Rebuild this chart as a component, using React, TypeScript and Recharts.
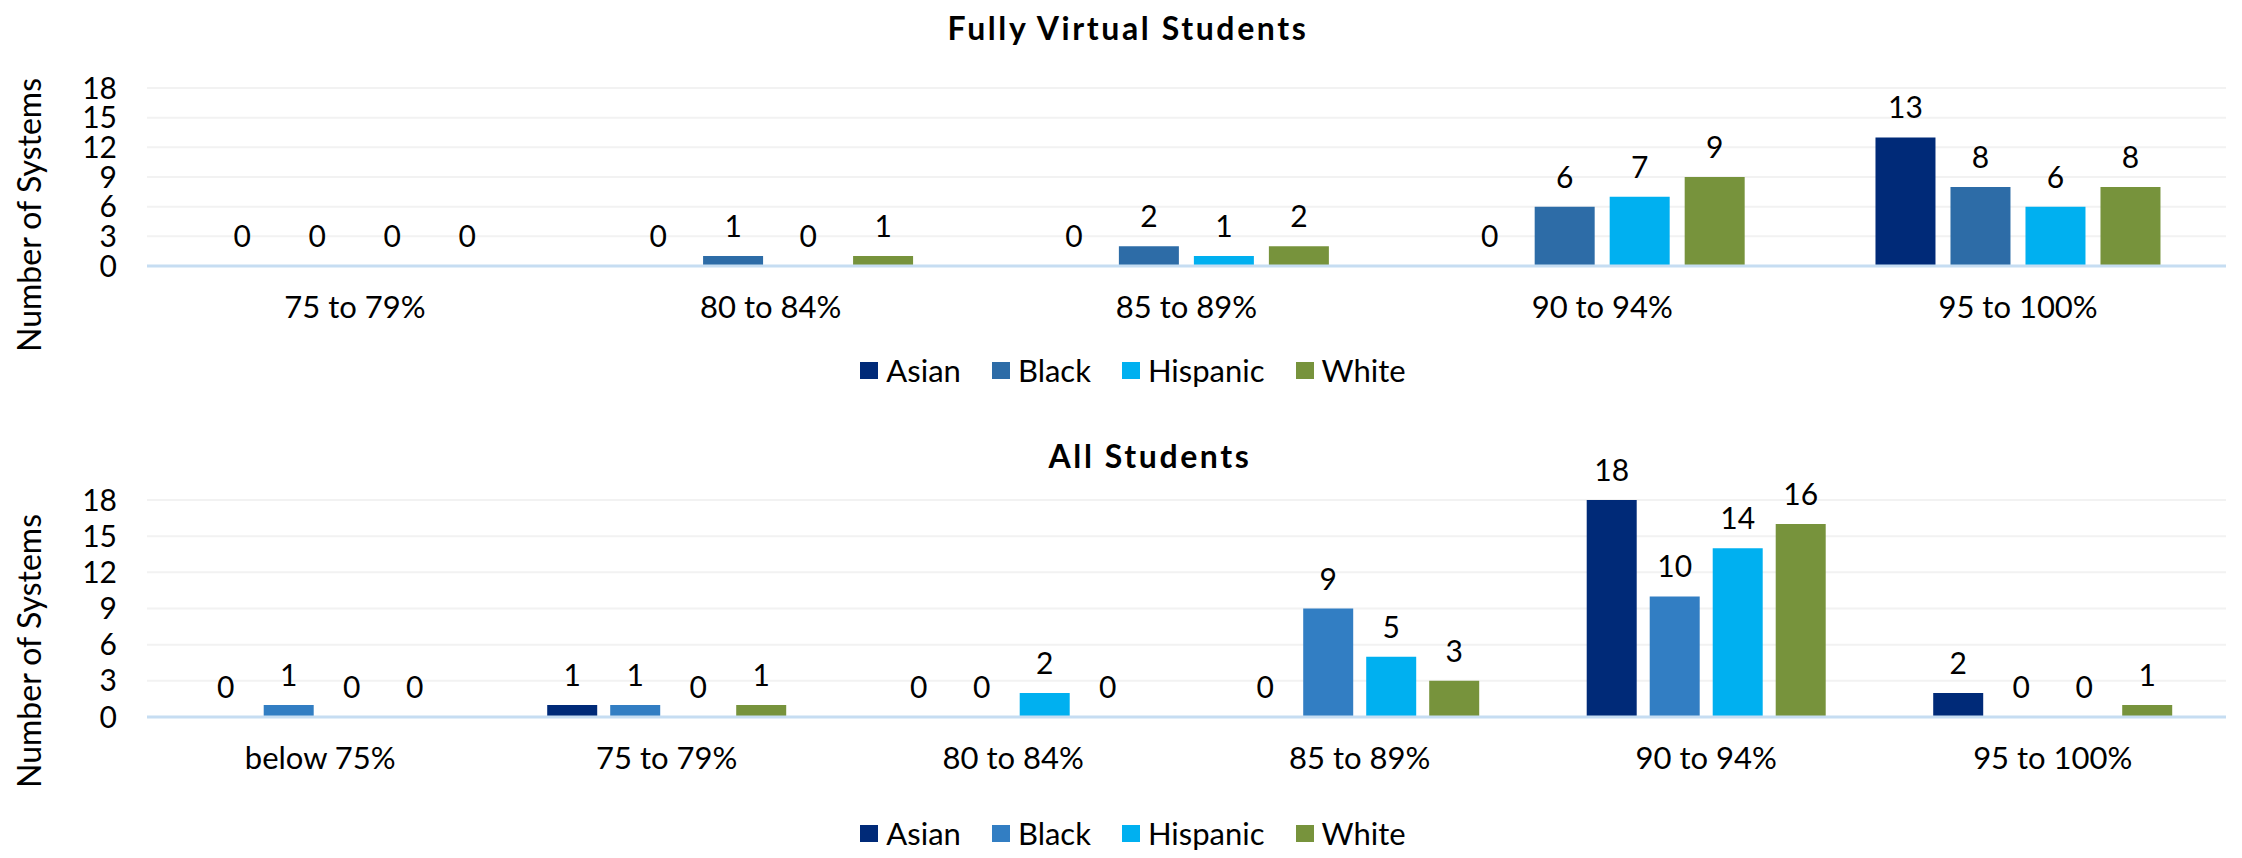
import React from "react";
import { BarChart, Bar, XAxis, YAxis, CartesianGrid, LabelList, Label } from "recharts";

// Fully Virtual Students
const virtualCategories = ["75 to 79%", "80 to 84%", "85 to 89%", "90 to 94%", "95 to 100%"];
const virtualAsian = [0, 0, 0, 0, 13];
const virtualBlack = [0, 1, 2, 6, 8];
const virtualHispanic = [0, 0, 1, 7, 6];
const virtualWhite = [0, 1, 2, 9, 8];

// All Students
const allCategories = ["below 75%", "75 to 79%", "80 to 84%", "85 to 89%", "90 to 94%", "95 to 100%"];
const allAsian = [0, 1, 0, 0, 18, 2];
const allBlack = [1, 1, 0, 9, 10, 0];
const allHispanic = [0, 0, 2, 5, 14, 0];
const allWhite = [0, 1, 0, 3, 16, 1];

const seriesNames = ["Asian", "Black", "Hispanic", "White"];
const yTicks = [0, 3, 6, 9, 12, 15, 18];

const FONT = "Lato, 'Open Sans', sans-serif";
const W = 2242;
const H = 429;

const buildRows = (cats: string[], a: number[], b: number[], h: number[], w: number[]) =>
  cats.map((name, i) => ({ name, Asian: a[i], Black: b[i], Hispanic: h[i], White: w[i] }));

const virtualRows = buildRows(virtualCategories, virtualAsian, virtualBlack, virtualHispanic, virtualWhite);
const allRows = buildRows(allCategories, allAsian, allBlack, allHispanic, allWhite);

const AxisTitle = ({ cy }: any) => {
  const cx = 28;
  return (
    <text
      x={cx}
      y={cy}
      transform={`rotate(-90 ${cx} ${cy})`}
      textAnchor="middle"
      dominantBaseline="central"
      fontSize={32}
      fontFamily={FONT}
      fill="#000"
    >
      Number of Systems
    </text>
  );
};

// bars of value 0 get a hairline height so their "0" label still shows
const ValueLabel = (props: any) => {
  const { x, y, width, height, value } = props;
  const top = Math.min(Number(y), Number(y) + Number(height));
  return (
    <text
      x={Number(x) + Number(width) / 2}
      y={top - 19}
      textAnchor="middle"
      fontSize={30}
      fontFamily={FONT}
      fill="#000"
    >
      {value}
    </text>
  );
};

const Legend = ({ colors, top }: { colors: string[]; top: number }) => (
  <div
    style={{
      position: "absolute",
      top,
      left: 0,
      width: 2266,
      display: "flex",
      justifyContent: "center",
      gap: 31,
      fontFamily: FONT,
      fontSize: 31,
      color: "#000",
      lineHeight: "36px",
    }}
  >
    {seriesNames.map((s, i) => (
      <div key={s} style={{ display: "flex", alignItems: "center", gap: 8 }}>
        <div style={{ width: 18, height: 17, background: colors[i] }} />
        <span>{s}</span>
      </div>
    ))}
  </div>
);

const Panel = ({
  rows,
  colors,
  plotTop,
  plotBottom,
  catGap,
  barGap,
  titleY,
}: {
  rows: any[];
  colors: string[];
  plotTop: number;
  plotBottom: number;
  catGap: string;
  barGap: number;
  titleY: number;
}) => (
  <BarChart
    width={W}
    height={H}
    data={rows}
    margin={{ top: plotTop, right: 16, left: 0, bottom: H - plotBottom - 60 }}
    barCategoryGap={catGap}
    barGap={barGap}
  >
    <CartesianGrid vertical={false} stroke="#F2F2F2" strokeWidth={2} />
    <XAxis
      dataKey="name"
      height={60}
      tickLine={false}
      tickSize={0}
      tickMargin={30}
      axisLine={{ stroke: "#C6DDF2", strokeWidth: 3 }}
      tick={{ fontSize: 31, fill: "#000", fontFamily: FONT }}
    />
    <YAxis
      width={147}
      domain={[0, 18]}
      ticks={yTicks}
      interval={0}
      tickLine={false}
      axisLine={false}
      tickSize={0}
      tickMargin={30}
      tick={{ fontSize: 30, fill: "#000", fontFamily: FONT }}
    >
      <Label content={<AxisTitle cy={titleY} />} />
    </YAxis>
    {seriesNames.map((s, i) => (
      <Bar
        key={s}
        dataKey={s}
        fill={colors[i]}
        minPointSize={0.01}
        isAnimationActive={false}
      >
        <LabelList dataKey={s} content={<ValueLabel />} />
      </Bar>
    ))}
  </BarChart>
);

const virtualColors = ["#002A78", "#2D6CA7", "#00B0F0", "#77933C"];
const allColors = ["#002A78", "#327EC3", "#00B0F0", "#77933C"];

export default function App() {
  return (
    <div style={{ position: "absolute", left: 0, top: 0, width: W, height: 858, background: "#fff" }}>
      <div style={{ position: "absolute", left: 0, top: 0 }}>
        <Panel
          rows={virtualRows}
          colors={virtualColors}
          plotTop={88}
          plotBottom={266}
          catGap="15.7%"
          barGap={15}
          titleY={215}
        />
      </div>
      <div style={{ position: "absolute", left: 0, top: H }}>
        <Panel
          rows={allRows}
          colors={allColors}
          plotTop={71}
          plotBottom={288}
          catGap="15.5%"
          barGap={13}
          titleY={222}
        />
      </div>
      <svg style={{ position: "absolute", left: 0, top: 0 }} width={W} height={858} pointerEvents="none">
        <text x={1128} y={40} textAnchor="middle" fontFamily={FONT} fontWeight={700} fontSize={32} letterSpacing={2.6} fill="#000">
          Fully Virtual Students
        </text>
        <text x={1150} y={468} textAnchor="middle" fontFamily={FONT} fontWeight={700} fontSize={32} letterSpacing={2.6} fill="#000">
          All Students
        </text>
      </svg>
      <Legend colors={virtualColors} top={352} />
      <Legend colors={allColors} top={815} />
    </div>
  );
}
